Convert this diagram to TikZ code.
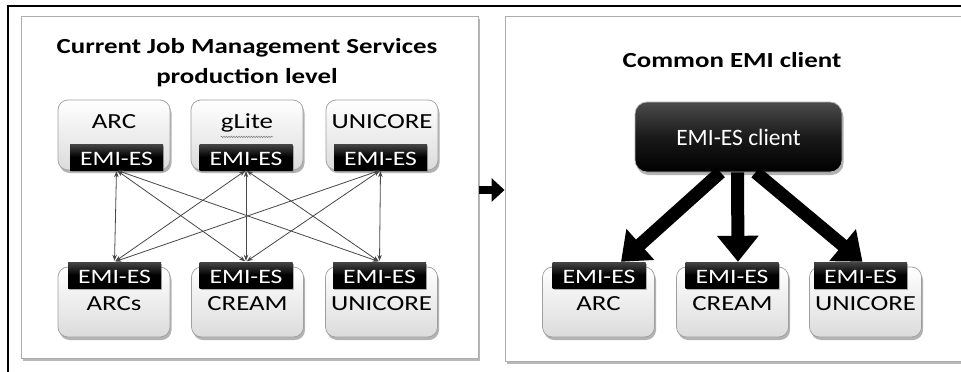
\documentclass[tikz,border=0pt]{standalone}
\usepackage{fontspec}
\setmainfont{Carlito}
\newfontfamily\wide{Carlito}[FakeStretch=1.25]
\usetikzlibrary{shadows,arrows.meta,decorations.pathmorphing}
\begin{document}
\begin{tikzpicture}[x=1pt,y=-1pt,
  panel/.style={draw=gray!65, fill=white, line width=0.9pt,
    drop shadow={shadow xshift=2pt, shadow yshift=-2.5pt, fill=gray!70, opacity=0.8}},
  svc/.style={draw=gray!75, line width=0.7pt, rounded corners=10pt, top color=white, bottom color=gray!28,
    minimum width=112pt, minimum height=70pt, inner sep=0pt,
    drop shadow={shadow xshift=1.5pt, shadow yshift=-3pt, fill=gray!85, opacity=0.7}},
  tab/.style={top color=gray!55!black, bottom color=black, middle color=black, text=white,
    minimum width=93pt, minimum height=26pt, inner sep=0pt, anchor=center,
    drop shadow={shadow xshift=1pt, shadow yshift=-1.5pt, fill=gray, opacity=0.6}},
  tabtxt/.style={text=white, anchor=base, inner sep=0pt, font=\wide\fontsize{20.5}{22}\selectfont},
  lbl/.style={anchor=base, inner sep=0pt, font=\wide\fontsize{21.5}{24}\selectfont},
  ttl/.style={anchor=base, inner sep=0pt, font=\wide\bfseries\fontsize{21.5}{24}\selectfont},
  link/.style={draw=black!72, line width=0.8pt, {Stealth[length=6pt,width=4.5pt]}-{Stealth[length=6pt,width=4.5pt]}},
  fat/.style={draw=black, line width=13pt, -{Triangle[width=40pt,length=26pt]}},
  fatedge/.style={draw=gray!70, line width=15pt, -{Triangle[width=44pt,length=28pt]}},
]
\useasboundingbox (0,0) rectangle (961,372);
% outer frame
\draw[line width=1.4pt] (8,372) -- (8,6) -- (961,6);
% panels
\node[panel, minimum width=457pt, minimum height=342pt, inner sep=0pt] (pl) at (249.5,187) {};
\node[panel, minimum width=470pt, minimum height=345pt, inner sep=0pt] (pr) at (740,188.5) {};
% titles
\node[ttl] (t1) at (247,53) {Current Job Management Services};
\node[ttl] (t2) at (247,83) {production level};
\node[ttl] (t3) at (732,67) {Common EMI client};
% top services
\node[svc] (a1) at (114,135) {};
\node[svc] (a2) at (247,135) {};
\node[svc] (a3) at (382,135) {};
\node[lbl] (la1) at (114,128) {ARC};
\node[lbl] (la2) at (247,128) {gLite};
\node[lbl] (la3) at (382,128) {UNICORE};
\draw[gray, line width=0.6pt, decorate, decoration={snake, amplitude=0.7pt, segment length=2.5pt}] (la2.south west) ++(0,5) coordinate (u1) -- (la2.south east |- u1);
\node[tab] (ta1) at (116.5,157) {};
\node[tab] (ta2) at (246,157) {};
\node[tab] (ta3) at (380.5,157) {};
\node[tabtxt] at (116.5,165) {EMI-ES};
\node[tabtxt] at (246,165) {EMI-ES};
\node[tabtxt] at (380.5,165) {EMI-ES};
% bottom services left
\node[svc] (b1) at (114,302) {};
\node[svc] (b2) at (247.5,302) {};
\node[svc] (b3) at (381.5,302) {};
\node[lbl] (lb1) at (114,310) {ARCs};
\node[lbl] (lb2) at (247.5,310) {CREAM};
\node[lbl] (lb3) at (381.5,310) {UNICORE};
\node[tab] (tb1) at (114.5,275) {};
\node[tab] (tb2) at (246,275) {};
\node[tab] (tb3) at (379.5,275) {};
\node[tabtxt] at (114.5,283) {EMI-ES};
\node[tabtxt] at (246,283) {EMI-ES};
\node[tabtxt] at (379.5,283) {EMI-ES};
% links
\foreach \s in {ta1,ta2,ta3}{
  \foreach \t in {tb1,tb2,tb3}{
    \draw[link, shorten <=1pt, shorten >=1pt] (\s.south) -- (\t.north);
  }
}
% middle block arrow
\draw[line width=7.5pt, -{Triangle[width=23pt,length=13pt]}] (pl.east |- 0,190) ++(1,0) coordinate (m1) -- (pr.west |- m1);
% right side
\node[svc, minimum width=207pt, minimum height=70pt, rounded corners=12pt, top color=gray!60!black, bottom color=black, middle color=black!90, draw=gray!60] (cl) at (738.5,137) {};
\node[anchor=base, inner sep=0pt, text=white, font=\fontsize{23.5}{25}\selectfont] (clt) at (738.5,145) {EMI-ES client};
\node[svc] (c1) at (598.5,302) {};
\node[svc] (c2) at (732.5,302) {};
\node[svc] (c3) at (865.5,302) {};
\node[lbl] (lc1) at (598.5,310) {ARC};
\node[lbl] (lc2) at (732.5,310) {CREAM};
\node[lbl] (lc3) at (865.5,310) {UNICORE};
\node[tab] (tc1) at (599,275) {};
\node[tab] (tc2) at (732,275) {};
\node[tab] (tc3) at (860.5,275) {};
\node[tabtxt] at (599,283) {EMI-ES};
\node[tabtxt] at (732,283) {EMI-ES};
\node[tabtxt] at (860.5,283) {EMI-ES};
\draw[fat] ([xshift=-18pt]cl.south) -- ([xshift=22pt]tc1.north);
\draw[fat] ([xshift=-1pt]cl.south) -- ([xshift=6pt]tc2.north);
\draw[fat] ([xshift=17pt]cl.south) -- ([xshift=2pt]tc3.north);
\end{tikzpicture}
\end{document}
